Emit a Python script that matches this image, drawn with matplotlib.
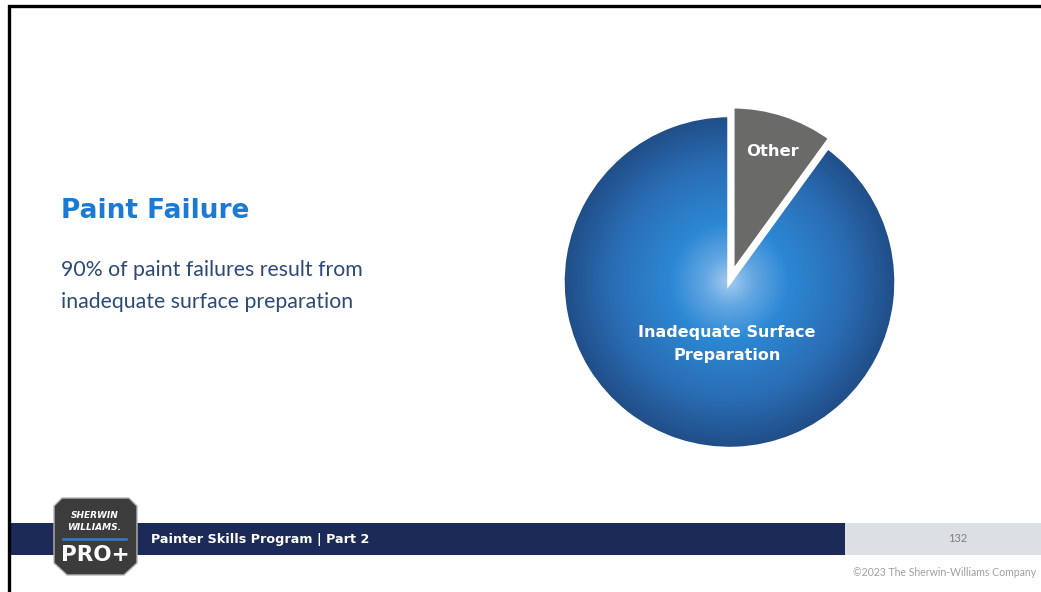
import matplotlib.pyplot as plt
import numpy as np
from matplotlib.colors import LinearSegmentedColormap
from matplotlib.patches import Polygon

# data
labels = ['Other', 'Inadequate Surface\nPreparation']
shares = [10, 90]
explode = [0.055, 0]

W, H = 1041, 592
fig = plt.figure(figsize=(W / 100, H / 100), dpi=100)
fig.patch.set_facecolor('white')

# background axes in pixel coordinates
bg = fig.add_axes([0, 0, 1, 1])
bg.set_xlim(0, W)
bg.set_ylim(H, 0)
bg.axis('off')

# slide frame
bg.plot([8.5, 8.5, W], [H, 6, 6], color='black', lw=2.4, solid_joinstyle='miter')

# title + body text
bg.text(61, 211, 'Paint Failure', color='#1b7bd4', fontsize=19, fontweight='bold',
        family='DejaVu Sans', va='center', ha='left')
bg.text(61, 270, '90% of paint failures result from', color='#2c4a78', fontsize=15.3,
        family='Lato', va='center', ha='left')
bg.text(61, 302, 'inadequate surface preparation', color='#2c4a78', fontsize=15.3,
        family='Lato', va='center', ha='left')

# footer bands
bg.fill_between([10, 845], 523, 555, color='#1b2a56', lw=0)
bg.fill_between([845, W], 523, 555, color='#dde0e3', lw=0)
bg.text(151, 539, 'Painter Skills Program | Part 2', color='white', fontsize=9.2,
        fontweight='bold', family='DejaVu Sans', va='center', ha='left')
bg.text(958, 539, '132', color='#7f7f7f', fontsize=8, family='Lato', va='center', ha='center')
bg.text(1036, 573, '\u00a92023 The Sherwin-Williams Company', color='#a0a0a0', fontsize=7.6,
        family='Lato', va='center', ha='right')

# logo shield
shield = Polygon([(62, 498), (129, 498), (137, 506), (137, 563), (124, 575),
                  (67, 575), (54, 563), (54, 506)], closed=True,
                 facecolor='#3c3c3c', edgecolor='#b5b5b5', lw=1, joinstyle='round')
bg.add_patch(shield)
bg.text(95, 516, 'SHERWIN', color='white', fontsize=6.5, fontweight='bold', style='italic',
        family='DejaVu Sans', ha='center', va='center')
bg.text(94, 528, 'WILLIAMS.', color='white', fontsize=6.5, fontweight='bold', style='italic',
        family='DejaVu Sans', ha='center', va='center')
bg.plot([63, 126], [539, 539], color='#2a7fd0', lw=1.8)
bg.text(95, 555, 'PRO+', color='white', fontsize=15.5, fontweight='bold',
        family='DejaVu Sans', ha='center', va='center')

# pie axes: centre (729.5, 282) px, radius 167 px
cx, cy, r = 729.5, 282, 167
half = 1.2 * r
ax = fig.add_axes([(cx - half) / W, (H - cy - half) / H, 2 * half / W, 2 * half / H])
wedges, _ = ax.pie(shares, explode=explode, startangle=90, counterclock=False,
                   colors=['#6a6a69', 'none'],
                   wedgeprops=dict(edgecolor='white', linewidth=3.2))
ax.set_xlim(-1.2, 1.2)
ax.set_ylim(-1.2, 1.2)
ax.set_aspect('equal')
ax.axis('off')

# radial gradient for the big slice
cmap = LinearSegmentedColormap.from_list('blue_rad', [
    (0.0, '#a3cbef'), (0.15, '#62a6e2'), (0.35, '#2c88d4'),
    (0.7, '#2a6db4'), (1.0, '#204d87')])
g = np.linspace(-1.05, 1.05, 500)
gx, gy = np.meshgrid(g, g)
rad = np.clip(np.hypot(gx, gy), 0, 1)
img = ax.imshow(rad, extent=(-1.05, 1.05, -1.05, 1.05), origin='lower', cmap=cmap,
                vmin=0, vmax=1, zorder=0.5, interpolation='bilinear')
img.set_clip_path(wedges[1])
wedges[1].set_zorder(1)

ax.text(0.26, 0.78, labels[0], color='white', fontsize=11.8, fontweight='bold',
        family='DejaVu Sans', ha='center', va='center')
ax.text(-0.015, -0.30, labels[1].split('\n')[0], color='white', fontsize=11.5,
        fontweight='bold', family='DejaVu Sans', ha='center', va='center')
ax.text(-0.015, -0.44, labels[1].split('\n')[1], color='white', fontsize=11.5,
        fontweight='bold', family='DejaVu Sans', ha='center', va='center')

fig.savefig('out.png', dpi=100)
